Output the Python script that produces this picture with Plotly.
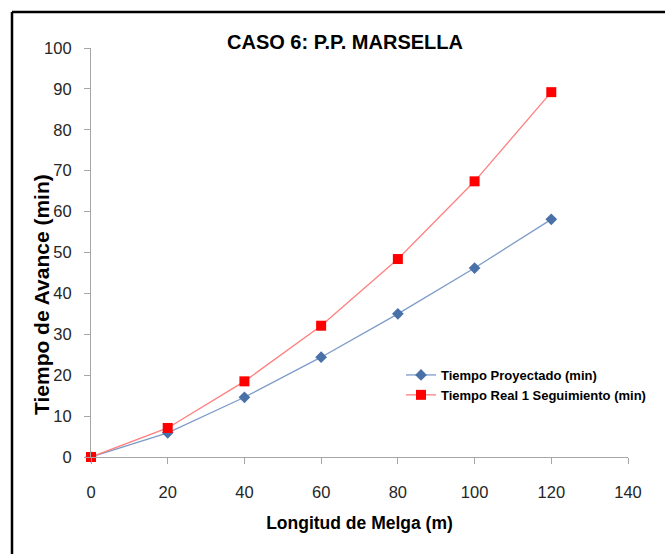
import plotly.graph_objects as go

longitud = [0, 20, 40, 60, 80, 100, 120]
tiempo_proyectado = [0, 5.9, 14.6, 24.4, 35.0, 46.2, 58.1]
tiempo_real = [0, 7.1, 18.5, 32.1, 48.4, 67.4, 89.2]

x_ticks = [0, 20, 40, 60, 80, 100, 120, 140]
y_ticks = [0, 10, 20, 30, 40, 50, 60, 70, 80, 90, 100]

FONT = "Liberation Sans, Arial, sans-serif"

fig = go.Figure()
fig.add_trace(go.Scatter(
    x=longitud, y=tiempo_proyectado, mode="lines+markers",
    name="<b>Tiempo Proyectado (min)</b>",
    line=dict(color="#7d9bc8", width=1.3),
    marker=dict(symbol="diamond", size=9, color="#4a70a8"),
    cliponaxis=False,
))
fig.add_trace(go.Scatter(
    x=longitud, y=tiempo_real, mode="lines+markers",
    name="<b>Tiempo Real 1 Seguimiento (min)</b>",
    line=dict(color="#ff7f7f", width=1.3),
    marker=dict(symbol="square", size=10, color="#ff0000"),
    cliponaxis=False,
))

axis_common = dict(
    showgrid=False, zeroline=False, showline=True, linecolor="#a6a6a6", linewidth=1.2,
    ticks="outside", tickcolor="#a6a6a6", ticklen=6, tickwidth=1.2,
    tickfont=dict(family=FONT, size=16.5, color="#262626"),
)

PX_W, PX_H = 537, 409
L, T = 91, 48

fig.update_layout(
    width=665, height=554,
    margin=dict(l=L, r=665 - L - PX_W, t=T, b=554 - T - PX_H, autoexpand=False),
    paper_bgcolor="white", plot_bgcolor="white",
    title=dict(text="<b>CASO 6: P.P. MARSELLA</b>", x=(345 - L) / PX_W, xref="paper",
               xanchor="center", y=1 - 42 / 554, yanchor="middle",
               font=dict(family=FONT, size=20, color="black")),
    xaxis=dict(range=[0, 140], tickvals=x_ticks, ticklabelstandoff=14,
               title=dict(text="<b>Longitud de Melga (m)</b>", standoff=16,
                          font=dict(family=FONT, size=17.5, color="black")),
               **axis_common),
    yaxis=dict(range=[0, 100], tickvals=y_ticks, ticklabelstandoff=9, **axis_common),
    legend=dict(x=(401 - L) / PX_W, y=(457 - 385) / PX_H, xanchor="left", yanchor="middle",
                font=dict(family=FONT, size=13, color="black"),
                bgcolor="rgba(0,0,0,0)", tracegroupgap=0, itemwidth=30),
    showlegend=True,
)

# y-axis title
fig.add_annotation(text="<b>Tiempo de Avance (min)</b>", textangle=-90, showarrow=False,
                   xref="paper", yref="paper", x=(41 - L) / PX_W, y=(457 - 295) / PX_H,
                   xanchor="center", yanchor="middle",
                   font=dict(family=FONT, size=21, color="black"))

# outer frame (left & top edges of chart border)
x0 = (12 - L) / PX_W
y_top = (457 - 12) / PX_H
fig.add_shape(type="line", xref="paper", yref="paper", x0=x0, x1=x0, y0=-0.3, y1=y_top,
              line=dict(color="black", width=2.5))
fig.add_shape(type="line", xref="paper", yref="paper", x0=x0, x1=1.2, y0=y_top, y1=y_top,
              line=dict(color="black", width=2.5))

fig.write_html("out.html")
